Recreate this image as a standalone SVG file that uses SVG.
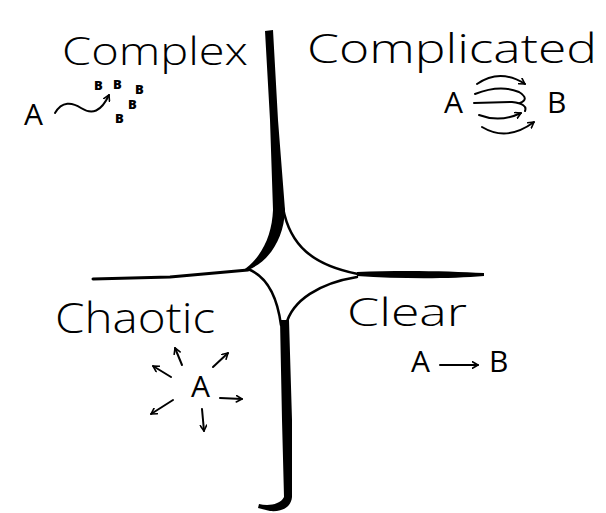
<svg xmlns="http://www.w3.org/2000/svg" width="606" height="513" viewBox="0 0 606 513">
<defs>
<style>
.hand{font-family:"Open Sans","Liberation Sans",sans-serif;font-weight:300;fill:#000}
.let{font-family:"Open Sans","Liberation Sans",sans-serif;font-weight:400;fill:#000;font-size:30px}
.tiny{font-family:"Open Sans","Liberation Sans",sans-serif;font-weight:800;fill:#000;font-size:13px}
.ln{fill:none;stroke:#000;stroke-linecap:round;stroke-linejoin:round}
.arr{fill:none;stroke:#000;stroke-width:2;stroke-linecap:round;stroke-linejoin:round}
</style>
<marker id="ah" viewBox="0 0 10 10" refX="8" refY="5" markerWidth="8" markerHeight="8" orient="auto" markerUnits="userSpaceOnUse">
<path d="M1,1 L8,5 L1,9" fill="none" stroke="#000" stroke-width="2" stroke-linecap="round" stroke-linejoin="round"/>
</marker>
</defs>
<rect width="606" height="513" fill="#fff"/>
<g id="framework">
<path d="M265,31 L273,30 L278,120 L285,210 C284,240 268,262 248,270 L242,271 C262,258 272,235 273,210 L270,120 Z" fill="#000"/>
<path class="ln" stroke-width="2.5" d="M283,208 C290,245 312,265 358,274"/>
<path class="ln" stroke-width="3" d="M93,279 L170,277 L248,270"/>
<path d="M357,272 C400,270 450,271 484,273 L484,276 C450,279 400,279 357,276 Z" fill="#000"/>
<path class="ln" stroke-width="2.5" d="M248,269 C266,276 277,295 281,325"/>
<path class="ln" stroke-width="2.5" d="M357,277 C320,283 292,300 286,325"/>
<path d="M280,320 L289,320 L292,420 L292,497 C291,507 283,512 270,511 L258,508 L259,504 C268,506 280,505 284,497 L282,420 Z" fill="#000"/>
</g>
<g id="node-complex">
<text class="hand" font-size="38" x="62" y="65" textLength="186" lengthAdjust="spacingAndGlyphs">Complex</text>
<text class="let" x="24" y="125">A</text>
<text class="tiny" x="94" y="90">B</text>
<text class="tiny" x="113" y="89">B</text>
<text class="tiny" x="135" y="94">B</text>
<text class="tiny" x="128" y="109">B</text>
<text class="tiny" x="115" y="123">B</text>
</g>
<g id="node-complicated">
<text class="hand" font-size="40" x="307" y="63" textLength="290" lengthAdjust="spacingAndGlyphs">Complicated</text>
<text class="let" x="444" y="113">A</text>
<text class="let" x="547" y="113">B</text>
</g>
<g id="node-chaotic">
<text class="hand" font-size="42" x="55" y="333" textLength="160" lengthAdjust="spacingAndGlyphs">Chaotic</text>
<text class="let" font-size="32" font-weight="600" x="191" y="397">A</text>
</g>
<g id="node-clear">
<text class="hand" font-size="38" x="347" y="326" textLength="120" lengthAdjust="spacingAndGlyphs">Clear</text>
<text class="let" font-size="28" x="411" y="372">A</text>
<text class="let" font-size="28" x="489" y="372">B</text>
</g>
<g id="connectors">
<path class="arr" marker-end="url(#ah)" d="M55,113 C62,101 72,102 81,108 C92,115 101,112 109,95"/>
<path class="arr" marker-end="url(#ah)" d="M477,84 Q500,68 525,84"/>
<path class="arr" d="M475,94 Q500,84 519,92 Q530,99 520,103"/>
<path class="arr" d="M474,103 L512,102 Q528,104 525,111"/>
<path class="arr" marker-end="url(#ah)" d="M479,115 Q500,123 521,113"/>
<path class="arr" marker-end="url(#ah)" d="M482,127 Q507,142 534,122"/>
<path class="arr" marker-end="url(#ah)" d="M440,365 L478,365"/>
<path class="arr" marker-end="url(#ah)" d="M171,377 L153,366"/>
<path class="arr" marker-end="url(#ah)" d="M182,365 L175,348"/>
<path class="arr" marker-end="url(#ah)" d="M213,367 L228,353"/>
<path class="arr" marker-end="url(#ah)" d="M220,398 L242,399"/>
<path class="arr" marker-end="url(#ah)" d="M202,409 L204,431"/>
<path class="arr" marker-end="url(#ah)" d="M173,400 L151,414"/>
</g>
</svg>
